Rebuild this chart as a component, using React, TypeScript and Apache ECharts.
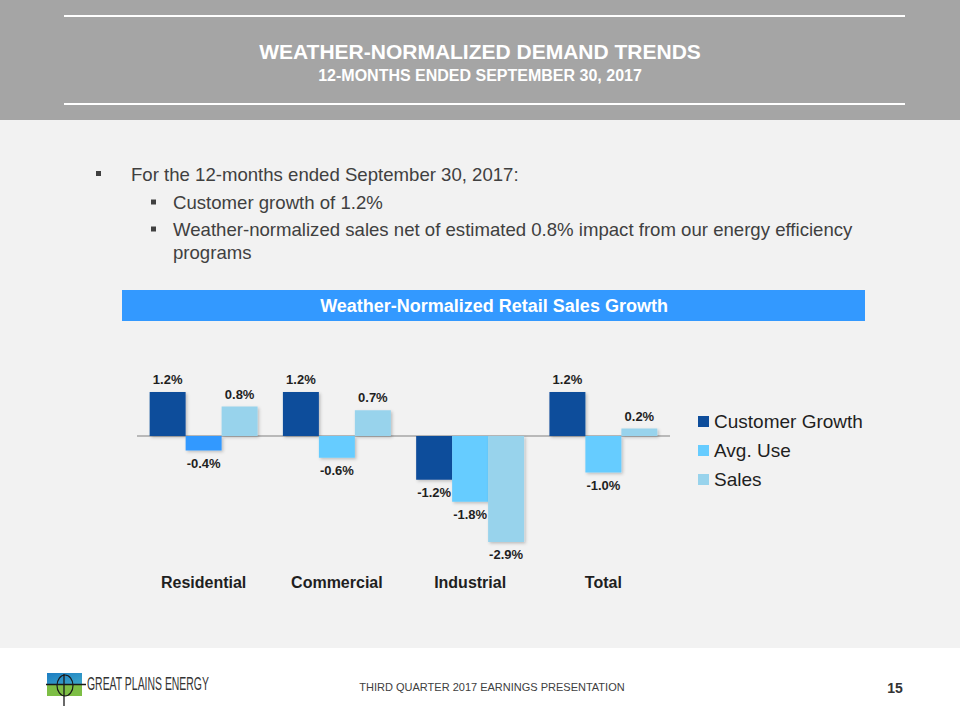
import React, { useEffect, useRef } from "react";
import * as echarts from "echarts";

const categories = ["Residential", "Commercial", "Industrial", "Total"];
const seriesNames = ["Customer Growth", "Avg. Use", "Sales"];
const customerGrowth = [1.2, 1.2, -1.2, 1.2];
const avgUse = [-0.4, -0.6, -1.8, -1.0];
const sales = [0.8, 0.7, -2.9, 0.2];
const seriesColors = ["#0E4D9B", "#66CCFF", "#98D3EC"];
// Residential Avg. Use bar is drawn in a different blue in the source
const pointColorOverrides: Record<string, string> = { "1-0": "#3399FF" };

const titleText = "WEATHER-NORMALIZED DEMAND TRENDS";
const subtitleText = "12-MONTHS ENDED SEPTEMBER 30, 2017";
const bulletMain = "For the 12-months ended September 30, 2017:";
const bulletSubs = [
  "Customer growth of 1.2%",
  "Weather-normalized sales net of estimated 0.8% impact from our energy efficiency",
  "programs",
];
const bannerText = "Weather-Normalized Retail Sales Growth";
const footerText = "THIRD QUARTER 2017 EARNINGS PRESENTATION";
const pageNumber = "15";
const logoText = "GREAT PLAINS ENERGY";

const FONT = "'Liberation Sans', Arial, sans-serif";

export default function App() {
  const ref = useRef<HTMLDivElement>(null);
  useEffect(() => {
    if (!ref.current) return;
    const chart = echarts.init(ref.current, undefined, { renderer: "svg" });
    const allValues = [customerGrowth, avgUse, sales];

    const series = allValues.map((vals, si) => ({
      name: seriesNames[si],
      type: "bar",
      barGap: "0%",
      barCategoryGap: "19%",
      itemStyle: {
        color: seriesColors[si],
        shadowColor: "rgba(0,0,0,0.22)",
        shadowBlur: 3,
        shadowOffsetX: 1.5,
        shadowOffsetY: 1.5,
      },
      label: {
        show: true,
        distance: 6,
        fontFamily: FONT,
        fontWeight: "bold",
        fontSize: 13,
        color: "#1F1F1F",
        formatter: (p: any) => Number(p.value).toFixed(1) + "%",
      },
      data: vals.map((v, i) => {
        const item: any = {
          value: v,
          label: { position: v < 0 ? "bottom" : "top" },
        };
        const ov = pointColorOverrides[`${si}-${i}`];
        if (ov) item.itemStyle = { color: ov };
        return item;
      }),
      markLine:
        si === 0
          ? {
              silent: true,
              symbol: "none",
              label: { show: false },
              lineStyle: { color: "#A6A6A6", width: 1.5, type: "solid" },
              data: [{ yAxis: 0 }],
              z: 1,
            }
          : undefined,
    }));

    const g: any[] = [];
    // page background
    g.push({ type: "rect", shape: { x: 0, y: 0, width: 960, height: 648 }, style: { fill: "#F2F2F2" }, z: -10 });
    g.push({ type: "rect", shape: { x: 0, y: 0, width: 960, height: 120 }, style: { fill: "#A5A5A5" }, z: -9 });
    g.push({ type: "line", shape: { x1: 64, y1: 16, x2: 905, y2: 16 }, style: { stroke: "#FFFFFF", lineWidth: 2 } });
    g.push({ type: "line", shape: { x1: 64, y1: 104, x2: 905, y2: 104 }, style: { stroke: "#FFFFFF", lineWidth: 2 } });
    g.push({
      type: "text", x: 480, y: 51,
      style: { text: titleText, fill: "#FFFFFF", font: `bold 21px ${FONT}`, align: "center", verticalAlign: "middle" },
    });
    g.push({
      type: "text", x: 480, y: 75,
      style: { text: subtitleText, fill: "#FFFFFF", font: `bold 16px ${FONT}`, align: "center", verticalAlign: "middle" },
    });
    // bullets
    g.push({ type: "rect", shape: { x: 96, y: 171, width: 5, height: 5 }, style: { fill: "#404040" } });
    g.push({
      type: "text", x: 131, y: 174,
      style: { text: bulletMain, fill: "#404040", font: `18.6px ${FONT}`, verticalAlign: "middle" },
    });
    const subY = [202, 229, 252];
    subY.forEach((y, i) => {
      if (i < 2) g.push({ type: "rect", shape: { x: 151, y: y - 2.5, width: 5, height: 5 }, style: { fill: "#404040" } });
      g.push({
        type: "text", x: 173, y,
        style: { text: bulletSubs[i], fill: "#404040", font: `18.6px ${FONT}`, verticalAlign: "middle" },
      });
    });
    // banner
    g.push({ type: "rect", shape: { x: 122, y: 290, width: 743, height: 31 }, style: { fill: "#3399FF" } });
    g.push({
      type: "text", x: 494, y: 306,
      style: { text: bannerText, fill: "#FFFFFF", font: `bold 18px ${FONT}`, align: "center", verticalAlign: "middle" },
    });
    // footer
    g.push({
      type: "text", x: 492, y: 687,
      style: { text: footerText, fill: "#404040", font: `11px ${FONT}`, align: "center", verticalAlign: "middle" },
    });
    g.push({
      type: "text", x: 895, y: 688,
      style: { text: pageNumber, fill: "#333333", font: `bold 14px ${FONT}`, align: "center", verticalAlign: "middle" },
    });
    // logo
    g.push({
      type: "rect", shape: { x: 47, y: 673, width: 35, height: 11.5 },
      style: {
        fill: new echarts.graphic.LinearGradient(0, 0, 1, 1, [
          { offset: 0, color: "#1C7DC3" },
          { offset: 1, color: "#3CA6C9" },
        ]),
      },
    });
    g.push({ type: "rect", shape: { x: 47, y: 684.5, width: 35, height: 11.5 }, style: { fill: "#7DBE45" } });
    g.push({ type: "ellipse", shape: { cx: 65, cy: 685.5, rx: 8, ry: 10.5 }, style: { fill: "none", stroke: "#1A1A1A", lineWidth: 1.2 } });
    g.push({ type: "line", shape: { x1: 46, y1: 684.5, x2: 86, y2: 684.5 }, style: { stroke: "#1A1A1A", lineWidth: 1.3 } });
    g.push({ type: "line", shape: { x1: 64, y1: 674, x2: 64, y2: 706 }, style: { stroke: "#1A1A1A", lineWidth: 1.3 } });
    g.push({
      type: "text", x: 87, y: 684, scaleX: 0.58,
      style: { text: logoText, fill: "#333333", font: `18px ${FONT}`, verticalAlign: "middle" },
    });

    const option: any = {
      animation: false,
      backgroundColor: "#FFFFFF",
      textStyle: { fontFamily: FONT },
      graphic: g,
      legend: {
        orient: "vertical",
        left: 698,
        top: 412,
        padding: 0,
        itemWidth: 11,
        itemHeight: 11,
        itemGap: 10,
        icon: "rect",
        data: seriesNames,
        textStyle: { fontFamily: FONT, fontSize: 19, lineHeight: 19, color: "#1F1F1F" },
      },
      grid: { left: 137, width: 533, top: 381, height: 183 },
      xAxis: {
        type: "category",
        data: categories,
        axisLine: { show: false, onZero: false },
        axisTick: { show: false },
        axisLabel: { fontFamily: FONT, fontWeight: "bold", fontSize: 16, color: "#1F1F1F", margin: 10 },
        splitLine: { show: false },
      },
      yAxis: {
        type: "value",
        min: -3.5,
        max: 1.5,
        show: false,
        splitLine: { show: false },
      },
      series,
    };
    chart.setOption(option);
    return () => chart.dispose();
  }, []);
  return (
    <div
      ref={ref}
      style={{ position: "fixed", left: 0, top: 0, width: 960, height: 720 }}
    />
  );
}
